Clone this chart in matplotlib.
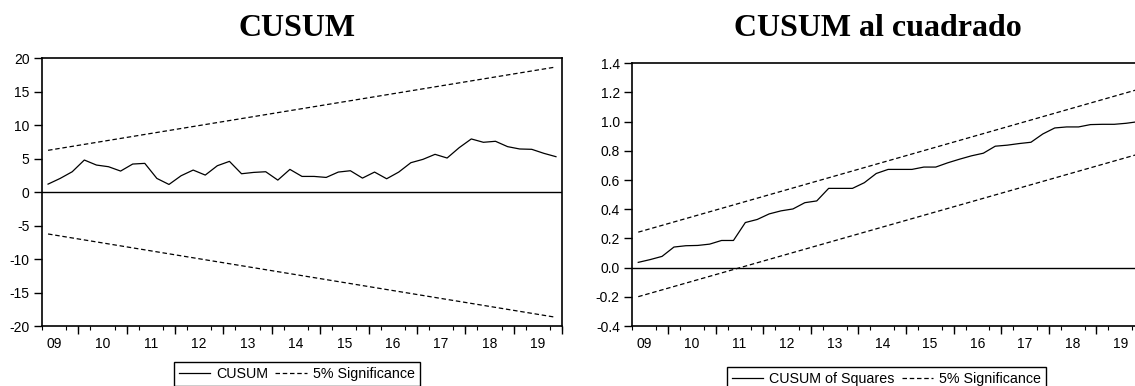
import matplotlib
matplotlib.use("Agg")
import matplotlib.pyplot as plt
from matplotlib.lines import Line2D
import numpy as np
import pandas as pd

# ---------------- data ----------------
periods = pd.period_range("2009Q2", "2019Q4", freq="Q")
year_labels = ["09", "10", "11", "12", "13", "14", "15", "16", "17", "18", "19"]
label_years = [2009, 2010, 2011, 2012, 2013, 2014, 2015, 2016, 2017, 2018, 2019]

cusum = [1.2, 2.05, 3.05, 4.8, 4.05, 3.8, 3.15, 4.2, 4.3, 2.05,
         1.15, 2.45, 3.3, 2.55, 3.95, 4.6, 2.75, 2.95, 3.05, 1.8,
         3.4, 2.35, 2.35, 2.2, 3.0, 3.2, 2.1, 3.0, 2.0, 3.0,
         4.4, 4.9, 5.65, 5.1, 6.65, 7.95, 7.45, 7.6, 6.8, 6.45,
         6.4, 5.8, 5.3]
cusum_upper = [6.25, 18.7]   # band value at first and last observation
cusum_lower = [-6.25, -18.7]

cusumsq = [0.036, 0.055, 0.077, 0.141, 0.15, 0.152, 0.161, 0.186, 0.186, 0.309,
           0.33, 0.368, 0.389, 0.402, 0.445, 0.457, 0.543, 0.543, 0.543, 0.582,
           0.645, 0.673, 0.673, 0.673, 0.689, 0.689, 0.718, 0.743, 0.766, 0.784,
           0.832, 0.839, 0.85, 0.859, 0.916, 0.957, 0.964, 0.964, 0.98, 0.982,
           0.982, 0.989, 1.0]
sq_upper = [0.243, 1.221]
sq_lower = [-0.199, 0.777]

# ---------------- layout ----------------
W, H = 1135, 386
fig = plt.figure(figsize=(W / 100, H / 100), dpi=100)
plt.rcParams["font.family"] = ["Liberation Sans", "DejaVu Sans"]

x = np.array([p.year + (p.quarter - 1) / 4 + 0.125 for p in periods])
x_ends = [x[0], x[-1]]
xmin = periods[0].year + (periods[0].quarter - 1) / 4
xmax = periods[-1].year + periods[-1].quarter / 4

DASH = (3.6, 2.2)
LW = 0.9
TICKFS = 10


def fx(px):
    return px / W


def fy(py):
    return 1 - py / H


def setup(ax, ylim, yticks, yfmt):
    ax.set_xlim(xmin, xmax)
    ax.set_ylim(*ylim)
    ax.set_yticks(yticks)
    ax.set_yticklabels([yfmt(v) for v in yticks])
    ax.tick_params(axis="y", direction="out", length=6, width=1, labelsize=TICKFS, pad=3)
    # year labels centred in each year (no tick mark)
    ax.set_xticks([y + 0.5 for y in label_years])
    ax.set_xticklabels(year_labels)
    ax.tick_params(axis="x", which="major", length=0, labelsize=TICKFS, pad=8)
    # quarter ticks
    q = np.arange(np.ceil(xmin * 4) / 4, xmax + 1e-9, 0.25)
    ax.set_xticks(q, minor=True)
    ax.tick_params(axis="x", which="minor", direction="out", length=3, width=0.8)
    # year boundary ticks (longer)
    sec = ax.secondary_xaxis("bottom")
    sec.set_xticks([y for y in range(int(np.ceil(xmin)), int(xmax) + 1)])
    sec.set_xticklabels([])
    sec.tick_params(axis="x", direction="out", length=6, width=1)
    sec.spines["bottom"].set_visible(False)
    for s in ax.spines.values():
        s.set_linewidth(1.2)
        s.set_color("black")
    ax.axhline(0, color="black", lw=1.0)


# left panel
axL = fig.add_axes([fx(42), fy(326), fx(562 - 42), (326 - 58.3) / H])
setup(axL, (-20, 20), [-20, -15, -10, -5, 0, 5, 10, 15, 20], lambda v: f"{v:d}")
axL.plot(x, cusum, color="black", lw=LW)
axL.plot(x_ends, cusum_upper, color="black", lw=LW, dashes=DASH)
axL.plot(x_ends, cusum_lower, color="black", lw=LW, dashes=DASH)

# right panel (extends past the right edge, as in the reference)
axR = fig.add_axes([fx(632.3), fy(326), fx(1144 - 632.3), (326 - 63.3) / H])
setup(axR, (-0.4, 1.4), [-0.4, -0.2, 0.0, 0.2, 0.4, 0.6, 0.8, 1.0, 1.2, 1.4], lambda v: f"{v:.1f}")
axR.plot(x, cusumsq, color="black", lw=LW)
axR.plot(x_ends, sq_upper, color="black", lw=LW, dashes=DASH)
axR.plot(x_ends, sq_lower, color="black", lw=LW, dashes=DASH)

# titles
fig.text(fx(297), fy(36), "CUSUM", ha="center", va="baseline",
         family=["Liberation Serif", "DejaVu Serif"], weight="bold", fontsize=23)
fig.text(fx(878), fy(36), "CUSUM al cuadrado", ha="center", va="baseline",
         family=["Liberation Serif", "DejaVu Serif"], weight="bold", fontsize=23)


def legend(labels, left, top):
    h = [Line2D([], [], color="black", lw=LW),
         Line2D([], [], color="black", lw=LW, dashes=DASH)]
    leg = fig.legend(h, labels, loc="upper left", bbox_to_anchor=(fx(left), fy(top)),
                     ncol=2, frameon=True, fancybox=False, shadow=False,
                     borderaxespad=0, borderpad=0.35, handlelength=2.2,
                     handletextpad=0.4, columnspacing=0.5, fontsize=10.3)
    fr = leg.get_frame()
    fr.set_edgecolor("black")
    fr.set_linewidth(1.0)
    fr.set_alpha(None)
    return leg


legend(["CUSUM", "5% Significance"], 174, 362)
legend(["CUSUM of Squares", "5% Significance"], 727, 367)

fig.savefig("out.png", dpi=100)
